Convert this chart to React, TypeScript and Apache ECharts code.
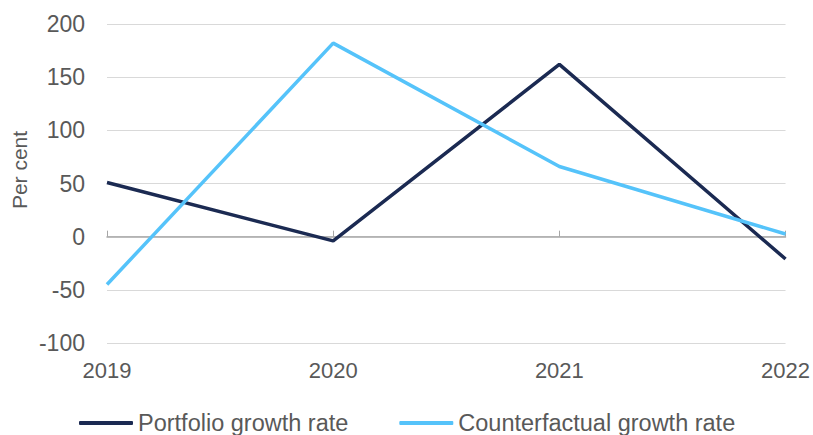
import React, { useEffect, useRef } from "react";
import * as echarts from "echarts";

const years = ["2019", "2020", "2021", "2022"];
const portfolioGrowth = [51, -4, 162, -21];
const counterfactualGrowth = [-45, 182, 66, 2.5];
const yTicks = { min: -100, max: 200, interval: 50 };

const FONT = "'Liberation Sans', Arial, sans-serif";
const TEXT_GREY = "#595959";
const NAVY = "#1B2A52";
const SKY = "#55C3FA";

export default function App() {
  const ref = useRef<HTMLDivElement>(null);

  useEffect(() => {
    if (!ref.current) return;
    const chart = echarts.init(ref.current, undefined, { renderer: "svg" });
    chart.setOption({
      animation: false,
      backgroundColor: "#ffffff",
      textStyle: { fontFamily: FONT },
      grid: { left: 107, right: 27, top: 24, bottom: 92, containLabel: false },
      legend: {
        left: 79,
        top: 411,
        padding: 0,
        itemWidth: 54,
        itemHeight: 4,
        itemGap: 51,
        icon: "roundRect",
        textStyle: { fontSize: 23.5, color: TEXT_GREY, fontFamily: FONT },
        data: ["Portfolio growth rate", "Counterfactual growth rate"],
      },
      xAxis: [
        {
          // zero line with upward ticks at each year
          type: "category",
          data: years,
          boundaryGap: false,
          axisLine: { show: true, onZero: true, lineStyle: { color: "#a6a6a6", width: 1.5 } },
          axisTick: { show: true, inside: true, length: 6, lineStyle: { color: "#a6a6a6", width: 1 } },
          axisLabel: { show: false },
          splitLine: { show: false },
        },
        {
          // year labels along the bottom of the plot
          type: "category",
          data: years,
          boundaryGap: false,
          position: "bottom",
          axisLine: { show: false, onZero: false },
          axisTick: { show: false },
          axisLabel: { show: true, fontSize: 22, color: TEXT_GREY, margin: 16, fontFamily: FONT },
          splitLine: { show: false },
        },
      ],
      yAxis: {
        type: "value",
        min: yTicks.min,
        max: yTicks.max,
        interval: yTicks.interval,
        axisLine: { show: false },
        axisTick: { show: false },
        axisLabel: { fontSize: 23, color: TEXT_GREY, margin: 22, fontFamily: FONT },
        splitLine: { show: true, lineStyle: { color: "#d9d9d9", width: 1.2 } },
      },
      graphic: [
        {
          type: "text",
          x: 19,
          y: 170,
          rotation: Math.PI / 2,
          style: {
            text: "Per cent",
            fontSize: 21,
            fill: TEXT_GREY,
            fontFamily: FONT,
            align: "center",
            verticalAlign: "middle",
          },
        },
      ],
      series: [
        {
          name: "Portfolio growth rate",
          type: "line",
          xAxisIndex: 0,
          data: portfolioGrowth,
          symbol: "none",
          lineStyle: { color: NAVY, width: 3.5 },
          itemStyle: { color: NAVY },
        },
        {
          name: "Counterfactual growth rate",
          type: "line",
          xAxisIndex: 0,
          data: counterfactualGrowth,
          symbol: "none",
          lineStyle: { color: SKY, width: 3.5 },
          itemStyle: { color: SKY },
        },
      ],
    });
    return () => chart.dispose();
  }, []);

  return (
    <div
      ref={ref}
      style={{ position: "fixed", left: 0, top: 0, width: 813, height: 435, background: "#fff" }}
    />
  );
}
